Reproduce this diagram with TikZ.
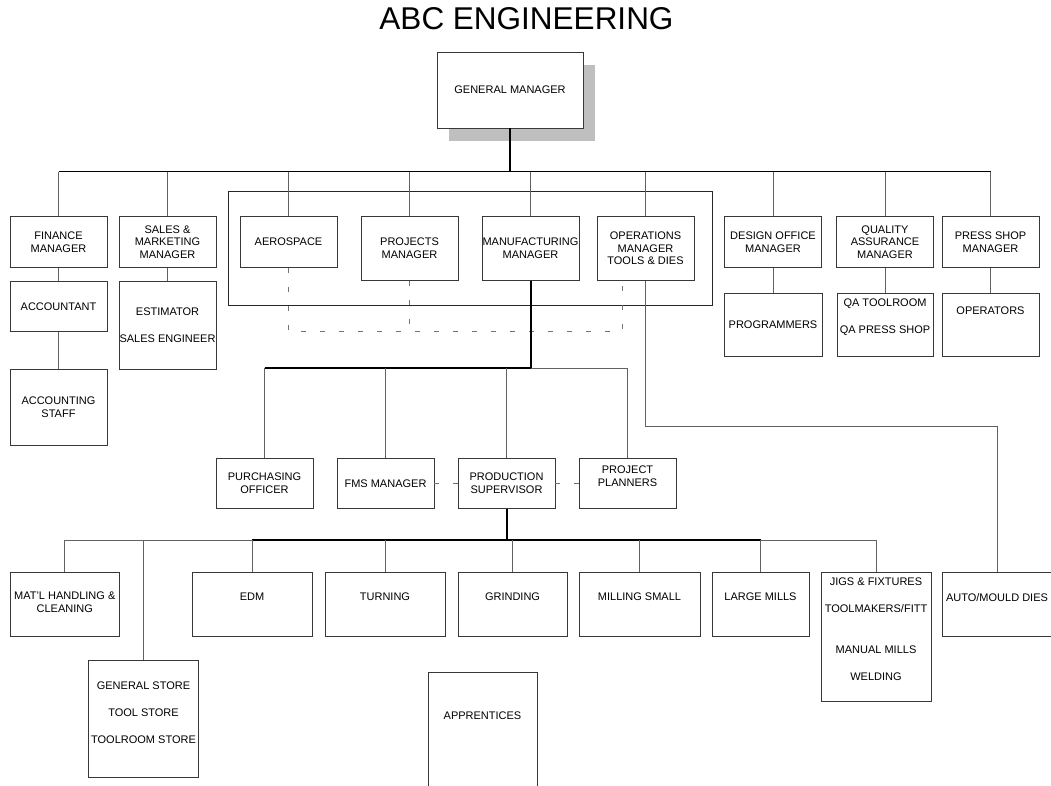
\documentclass[tikz,border=0pt]{standalone}
\usepackage{fontspec}
\setmainfont{Liberation Sans}
\begin{document}
\begin{tikzpicture}[x=1pt,y=-1pt,
    box/.style={draw=black!78, line width=0.9pt, inner sep=0pt, align=center, font=\fontsize{11}{12.7}\selectfont},
    txt/.style={inner sep=0pt, align=center, font=\fontsize{11}{12.7}\selectfont},
    conn/.style={draw=black!62, line width=0.9pt},
    barline/.style={draw=black, line width=1pt},
    heavyline/.style={draw=black, line width=2pt},
    dash line/.style={draw=black!55, line width=0.9pt, dash pattern=on 5pt off 14pt}]
  \useasboundingbox (0,0) rectangle (1051,786);
  \node at (526.5,19) [font=\fontsize{31.5}{36}\selectfont] (title) {ABC ENGINEERING};

  \fill[black!25] (449,65) rectangle (595,141);
  \node[box, fill=white, minimum width=146, minimum height=76] (gm) at (510,90) {GENERAL MANAGER};
  \draw[draw=black!85, line width=0.9pt] (228,191) rectangle (712,305);

  \coordinate (bartop) at (0,172);
  \coordinate (bar2) at (0,368);
  \coordinate (bar3) at (0,540);
  \coordinate (dashy) at (0,331);
  \coordinate (opsy) at (0,426);

  \foreach \nm/\x/\h/\t in {fin/58.5/51/{FINANCE\\MANAGER}, sales/167.5/51/{SALES \&\\MARKETING\\MANAGER},
      aero/288.5/51/AEROSPACE, proj/409.5/64/{PROJECTS\\MANAGER}, mfg/530.5/64/{MANUFACTURING\\MANAGER},
      ops/645.5/64/{OPERATIONS\\MANAGER\\TOOLS \& DIES}, design/773/51/{DESIGN OFFICE\\MANAGER},
      qa/885/51/{QUALITY\\ASSURANCE\\MANAGER}, press/990.5/51/{PRESS SHOP\\MANAGER}}
  {
    \node[box, anchor=north, minimum width=97, minimum height=\h] (\nm) at (\x,216) {\t};
    \draw[conn] (\nm.north) -- (\nm.north |- bartop);
  }
  \draw[barline] (fin.north |- bartop) -- (press.north |- bartop);
  \draw[heavyline] (gm.south) -- (gm.south |- bartop);

  \node[box, anchor=north, minimum width=97, minimum height=50] (acct) at (58.5,281) {ACCOUNTANT};
  \node[box, anchor=north, minimum width=97, minimum height=76] (staff) at (58.5,369) {ACCOUNTING\\STAFF};
  \node[box, anchor=north, minimum width=97, minimum height=88] (est) at (167.5,281) {ESTIMATOR\\[14.5pt]SALES ENGINEER};
  \node[box, anchor=north, minimum width=98, minimum height=63] (prog) at (773,293) {PROGRAMMERS};
  \node[box, anchor=north, minimum width=96, minimum height=63] (qat) at (885,293) {};
  \node[txt] (qat-t) at (885,317.5) {QA TOOLROOM\\[14.5pt]QA PRESS SHOP};
  \node[box, anchor=north, minimum width=97, minimum height=63] (oper) at (990.5,293) {};
  \node[txt] (oper-t) at (990.5,311) {OPERATORS};
  \draw[conn] (fin) -- (acct);
  \draw[conn] (acct) -- (staff);
  \draw[conn] (sales) -- (est);
  \draw[conn] (design) -- (prog);
  \draw[conn] (qa) -- (qat);
  \draw[conn] (press) -- (oper);

  \coordinate (opsdash) at ([xshift=-23.5pt]ops.south);
  \draw[dash line] (aero.south) |- (opsdash |- dashy) -- (opsdash);
  \draw[dash line] (proj.south) -- (proj.south |- dashy);

  \node[box, anchor=north, minimum width=97, minimum height=50] (purch) at (264.5,458) {PURCHASING\\OFFICER};
  \node[box, anchor=north, minimum width=97, minimum height=50] (fms) at (385.5,458) {FMS MANAGER};
  \node[box, anchor=north, minimum width=97, minimum height=50] (ps) at (506.5,458) {PRODUCTION\\SUPERVISOR};
  \node[box, anchor=north, minimum width=97, minimum height=50] (pp) at (627.5,458) {};
  \node[txt] (pp-t) at (627.5,476) {PROJECT\\PLANNERS};
  \draw[heavyline] (mfg.south) -- (mfg.south |- bar2);
  \draw[barline, line width=1.5pt] (purch.north |- bar2) -- (mfg.south |- bar2);
  \draw[conn] (mfg.south |- bar2) -- (pp.north |- bar2);
  \foreach \nm in {purch,fms,ps,pp}
    \draw[conn] (\nm.north) -- (\nm.north |- bar2);
  \draw[dash line] (fms.east) -- (ps.west);
  \draw[dash line] (ps.east) -- (pp.west);

  \foreach \nm/\x/\w/\h/\ty/\t in {mat/64.75/108.5/64/602.5/{MAT'L HANDLING \&\\CLEANING}, edm/252/120/64/597/EDM,
      turn/385/120/64/597/TURNING, grind/512.5/109/64/597/GRINDING, mill/639.5/121/64/597/{MILLING SMALL},
      large/760.5/97/64/597/{LARGE MILLS}, jigs/876/110/129/629/{JIGS \& FIXTURES\\[14.5pt]TOOLMAKERS/FITT\\[28.3pt]MANUAL MILLS\\[14.5pt]WELDING},
      auto/997/110/64/598/{AUTO/MOULD DIES}}
  {
    \node[box, anchor=north, minimum width=\w, minimum height=\h] (\nm) at (\x,572) {};
    \node[txt] (\nm-t) at (\x,\ty) {\t};
  }
  \node[box, anchor=north, minimum width=110, minimum height=117] (gs) at (143.5,660) {};
  \node[txt] (gs-t) at (143.5,712.5) {GENERAL STORE\\[14.5pt]TOOL STORE\\[14.5pt]TOOLROOM STORE};
  \node[box, anchor=north, minimum width=109, minimum height=130] (appr) at (482.5,672) {};
  \node[txt] (appr-t) at (482.5,716) {APPRENTICES};

  \draw[heavyline] (ps.south) -- (ps.south |- bar3);
  \draw[conn] (mat.north |- bar3) -- (edm.north |- bar3);
  \draw[barline, line width=1.6pt] (edm.north |- bar3) -- (large.north |- bar3);
  \draw[conn] (large.north |- bar3) -- (jigs.north |- bar3);
  \foreach \nm in {mat,gs,edm,turn,grind,mill,large,jigs}
    \draw[conn] (\nm.north) -- (\nm.north |- bar3);
  \draw[conn] (ops.south) -- (ops.south |- opsy) -| (auto.north);
\end{tikzpicture}
\end{document}
